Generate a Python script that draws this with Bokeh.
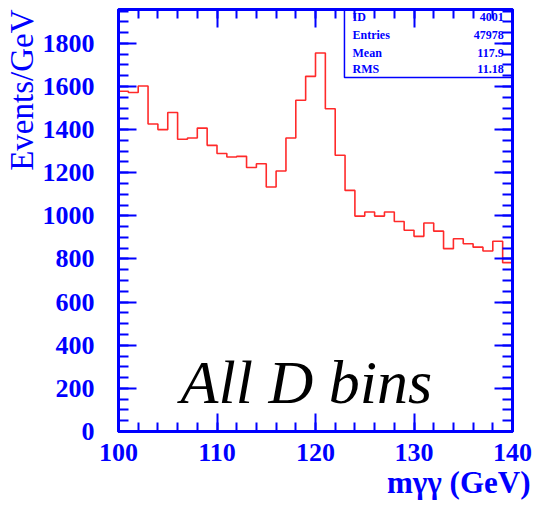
import numpy as np
from bokeh.plotting import figure
from bokeh.models import (Range1d, FixedTicker, LinearAxis, Label, BoxAnnotation, Title)
from bokeh.embed import file_html
from bokeh.resources import INLINE

# ---- data ----
bin_edges = list(range(100, 141))          # 1 GeV bins, 100..140
events = [1578, 1572, 1602, 1426, 1400, 1479, 1355, 1361, 1407, 1327,
          1289, 1273, 1276, 1224, 1242, 1134, 1208, 1361, 1536, 1647,
          1755, 1497, 1281, 1118, 999, 1018, 999, 1018, 974, 933,
          905, 967, 929, 848, 894, 871, 855, 837, 882, 783]
x_ticks = [100, 110, 120, 130, 140]
y_ticks = [0, 200, 400, 600, 800, 1000, 1200, 1400, 1600, 1800]
stat_names = ["ID", "Entries", "Mean", "RMS"]
stat_values = ["4001", "47978", "117.9", "11.18"]

BLUE = "#0000ff"
SERIF = "Liberation Serif"

p = figure(width=536, height=507, output_backend="svg", toolbar_location=None,
           x_range=Range1d(100, 140), y_range=Range1d(0, 1957),
           min_border_left=118, min_border_right=24, min_border_top=9,
           min_border_bottom=76, background_fill_color="white",
           border_fill_color="white")
p.xaxis.visible = False
p.yaxis.visible = False
p.grid.visible = False
p.outline_line_color = BLUE
p.outline_line_width = 3

xt = FixedTicker(ticks=x_ticks, minor_ticks=list(range(100, 141, 2)))
yt = FixedTicker(ticks=y_ticks, minor_ticks=list(range(0, 1951, 50)))


def style_axis(ax, show_labels, major_len, minor_len):
    ax.axis_line_color = BLUE
    ax.axis_line_width = 3
    ax.major_tick_line_color = BLUE
    ax.minor_tick_line_color = BLUE
    ax.major_tick_line_width = 2
    ax.minor_tick_line_width = 2
    ax.major_tick_in = major_len
    ax.major_tick_out = 0
    ax.minor_tick_in = minor_len
    ax.minor_tick_out = 0
    if show_labels:
        ax.major_label_text_font = SERIF
        ax.major_label_text_font_style = "bold"
        ax.major_label_text_font_size = "26px"
        ax.major_label_text_color = BLUE
    else:
        ax.major_label_text_font_size = "0px"
        ax.major_label_standoff = 0


bottom = LinearAxis(ticker=xt)
style_axis(bottom, True, 18, 9)
bottom.major_label_standoff = 12
left = LinearAxis(ticker=yt)
style_axis(left, True, 18, 10)
left.major_label_standoff = 24
top = LinearAxis(ticker=xt)
style_axis(top, False, 18, 9)
right = LinearAxis(ticker=yt)
style_axis(right, False, 18, 10)
p.add_layout(bottom, "below")
p.add_layout(left, "left")
p.add_layout(top, "above")
p.add_layout(right, "right")

# axis titles as side-panel titles (not clipped to the frame)
p.add_layout(Title(text="m\u03b3\u03b3 (GeV)", align="right", offset=-18,
                   standoff=-2, text_font=SERIF, text_font_style="bold",
                   text_font_size="31px", text_color=BLUE), "below")
p.add_layout(Title(text="Events/GeV", align="right", offset=0, standoff=0,
                   text_font=SERIF, text_font_style="normal",
                   text_font_size="33px", text_color=BLUE), "left")

# histogram as a step line
ys = events + [events[-1]]
p.step(x=bin_edges, y=ys, mode="after", line_color="#ff2a2a", line_width=1.6)

# stats box
p.add_layout(BoxAnnotation(left=122.94, right=140, top=1957, bottom=1642,
                           fill_alpha=0, line_color=BLUE, line_alpha=1.0,
                           line_width=1.5))
row_y = [1921, 1837, 1756, 1679]
for name, val, yy in zip(stat_names, stat_values, row_y):
    p.add_layout(Label(x=123.76, y=yy, text=name, text_font=SERIF,
                       text_font_style="bold", text_font_size="12px",
                       text_color=BLUE, text_baseline="middle", text_align="left"))
    p.add_layout(Label(x=139.1, y=yy, text=val, text_font=SERIF,
                       text_font_style="bold", text_font_size="12px",
                       text_color=BLUE, text_baseline="middle", text_align="right"))

# "All D bins"
p.add_layout(Label(x=106.3, y=228, text="All D bins", text_font=SERIF,
                   text_font_style="italic", text_font_size="62px",
                   text_color="black", text_align="left",
                   text_baseline="alphabetic"))

open("out.html", "w").write(file_html(p, INLINE))
